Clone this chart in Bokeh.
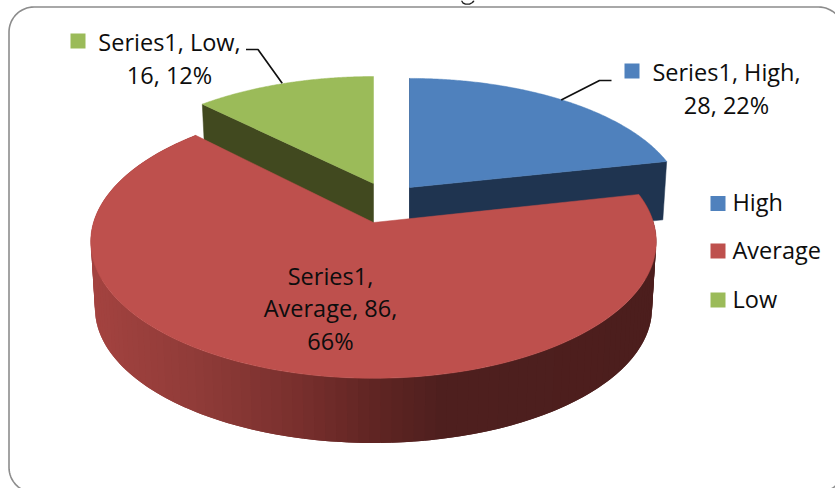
import math

from bokeh.core.properties import value
from bokeh.embed import file_html
from bokeh.models import ColumnDataSource, Range1d
from bokeh.plotting import figure
from bokeh.resources import INLINE

# Chart data
categories = ["High", "Average", "Low"]
counts = [28, 86, 16]
series_name = "Series1"

# Colours
top_colors = {"High": "#4f81bd", "Average": "#be504d", "Low": "#9bbb59"}
face_colors = {"High": "#1f3450", "Low": "#41491f"}
rim_stops = [(90, (164, 67, 64)), (200, (143, 59, 56)), (300, (120, 47, 45)),
             (373, (96, 37, 35)), (440, (78, 31, 30)), (660, (76, 30, 29))]

# Projection of the tilted disc, in page pixels
SEMI_X = 280.0
SEMI_Y = 134.0
PERSPECTIVE = 0.14
BASE_SHRINK = 0.985
# apex position, horizontal and vertical scale, thickness of every slice
placement = {
    "High": dict(ax=409.0, ay=187.0, sx=0.969, sy=0.928, depth=58.0),
    "Average": dict(ax=373.0, ay=222.0, sx=1.0, sy=1.0, depth=67.0),
    "Low": dict(ax=373.0, ay=183.0, sx=0.963, sy=0.91, depth=50.0),
}

# Angular span of each slice, clockwise from twelve o'clock
total = sum(counts)
spans = {}
start = 0.0
for name, count in zip(categories, counts):
    spans[name] = (start, start + 360.0 * count / total)
    start += 360.0 * count / total


def project(name, theta_deg, base=False):
    cfg = placement[name]
    t = math.radians(theta_deg)
    u, v = math.sin(t), math.cos(t)
    w = 1.0 + PERSPECTIVE * v
    shrink = BASE_SHRINK if base else 1.0
    x = cfg["ax"] + cfg["sx"] * shrink * SEMI_X * u / w
    y = cfg["ay"] - cfg["sy"] * shrink * SEMI_Y * v / w
    if base:
        y += cfg["depth"]
    return x, y


def arc(name, a, b, base=False, steps=160):
    pts = [project(name, a + (b - a) * i / steps, base) for i in range(steps + 1)]
    return [q[0] for q in pts], [q[1] for q in pts]


def rim_color(x):
    for (x0, c0), (x1, c1) in zip(rim_stops, rim_stops[1:]):
        if x <= x1:
            f = max(0.0, (x - x0) / (x1 - x0))
            return "#%02x%02x%02x" % tuple(round(p + (q - p) * f) for p, q in zip(c0, c1))
    return "#%02x%02x%02x" % rim_stops[-1][1]


p = figure(width=835, height=488, output_backend="svg", toolbar_location=None,
           x_range=Range1d(0, 835), y_range=Range1d(488, 0),
           min_border=0, outline_line_color=None, background_fill_color="white")
p.axis.visible = False
p.grid.visible = False


# Cut edge of a slice, running from its rim corner into the apex
def cut_face(name, theta):
    cfg = placement[name]
    tx, ty = project(name, theta)
    bx, by = project(name, theta, base=True)
    return ([tx, cfg["ax"], cfg["ax"], bx], [ty, cfg["ay"], cfg["ay"] + cfg["depth"], by])


def top_face(name):
    a, b = spans[name]
    xs, ys = arc(name, a, b)
    cfg = placement[name]
    return xs + [cfg["ax"]], ys + [cfg["ay"]]


# Slices further back come first
low_start = spans["Low"][0]
fx, fy = cut_face("Low", low_start)
p.patch(fx, fy, fill_color=face_colors["Low"], line_color=face_colors["Low"], line_width=0.5)
tx, ty = top_face("Low")
p.patch(tx, ty, fill_color=top_colors["Low"], line_color=top_colors["Low"], line_width=0.5)

high_end = spans["High"][1]
fx, fy = cut_face("High", high_end)
p.patch(fx, fy, fill_color=face_colors["High"], line_color=face_colors["High"], line_width=0.5)
fx, fy = cut_face("High", 0.0)
p.patch(fx, fy, fill_color=face_colors["High"], line_color=face_colors["High"], line_width=0.5)
tx, ty = top_face("High")
p.patch(tx, ty, fill_color=top_colors["High"], line_color=top_colors["High"], line_width=0.5)

# Shaded outer wall of the large slice: strips overlap their neighbour so no seams show
a0, a1 = spans["Average"]
steps = 120
strip_xs, strip_ys, strip_colors = [], [], []
for i in range(steps):
    t0 = a0 + (a1 - a0) * i / steps
    t1 = a0 + (a1 - a0) * (i + 2) / steps if i < steps - 1 else a1
    tm = a0 + (a1 - a0) * (i + 0.5) / steps
    x0, y0 = project("Average", t0)
    xm, ym = project("Average", tm)
    x1, y1 = project("Average", t1)
    x2, y2 = project("Average", t1, base=True)
    xn, yn = project("Average", tm, base=True)
    x3, y3 = project("Average", t0, base=True)
    strip_xs.append([x0, xm, x1, x2, xn, x3])
    strip_ys.append([y0, ym, y1, y2, yn, y3])
    strip_colors.append(rim_color((xm + xn) / 2))
p.patches(strip_xs, strip_ys, fill_color=strip_colors, line_color=None)
tx, ty = top_face("Average")
p.patch(tx, ty, fill_color=top_colors["Average"], line_color=top_colors["Average"], line_width=0.5)

# Leader lines
p.line([245.5, 257.5, 281.7], [49, 49, 82.7], line_color="#111111", line_width=1.7)
p.line([611, 599, 560.7], [80, 80, 99.5], line_color="#111111", line_width=1.7)

# Rounded frame of the chart area
frame_x, frame_y = [], []
corners = [(33.5, 31.5, 180, 270), (818.0, 31.5, 270, 360), (818.0, 467.0, 0, 90), (33.5, 467.0, 90, 180)]
for cx, cy, a, b in corners:
    for i in range(17):
        t = math.radians(a + (b - a) * i / 16)
        frame_x.append(cx + 25 * math.cos(t))
        frame_y.append(cy + 25 * math.sin(t))
frame_x.append(frame_x[0])
frame_y.append(frame_y[0])
p.line(frame_x, frame_y, line_color="#8c8c8c", line_width=1.6)

# Texts
FONT = value("Open Sans")
SIZE = "23.5px"
pct = {n: round(100 * c / total) for n, c in zip(categories, counts)}
cnt = dict(zip(categories, counts))

labels = [
    (169, 41, f"{series_name}, Low,"),
    (169, 74, f"{cnt['Low']}, {pct['Low']}%"),
    (726, 71, f"{series_name}, High,"),
    (726, 104, f"{cnt['High']}, {pct['High']}%"),
    (330, 275, f"{series_name},"),
    (330, 307, f"Average, {cnt['Average']},"),
    (330, 340, f"{pct['Average']}%"),
]
src = ColumnDataSource(dict(x=[q[0] for q in labels], y=[q[1] for q in labels], t=[q[2] for q in labels]))
p.text("x", "y", "t", source=src, text_font=FONT, text_font_size=SIZE, text_color="#0d0d0d",
       text_align="center", text_baseline="middle")

# Legend keys and names, plus the keys beside the callouts
legend_y = [203, 250.5, 299.5]
p.scatter([717.5] * 3, legend_y, marker="square", size=15, line_width=0,
          fill_color=[top_colors[c] for c in categories])
p.text([732] * 3, [y - 1.5 for y in legend_y], categories, text_font=FONT, text_font_size=SIZE,
       text_color="#0d0d0d", text_align="left", text_baseline="middle")
p.scatter([77.5, 631.5], [40.5, 70.5], marker="square", size=15, line_width=0,
          fill_color=[top_colors["Low"], top_colors["High"]])

# Stroke of the heading that pokes in at the top edge
p.line([461, 462.5, 465, 469, 472, 473.5], [0, 2.5, 3.6, 3.6, 2, 0], line_color="#222222", line_width=1.4)

open("out.html", "w").write(file_html(p, INLINE))
